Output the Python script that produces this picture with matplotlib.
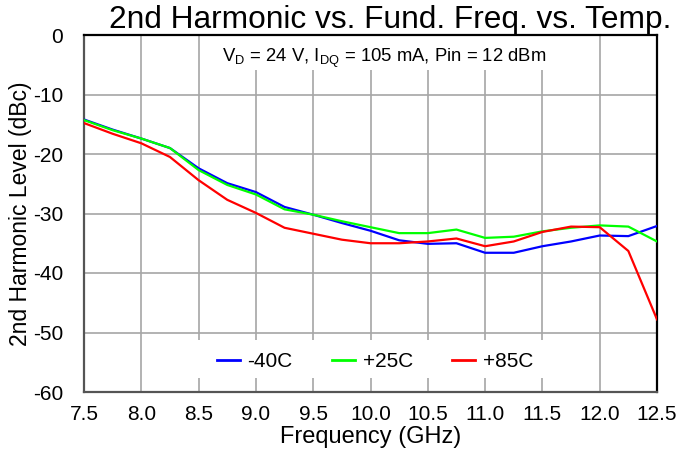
import matplotlib
matplotlib.use("Agg")
import matplotlib.pyplot as plt
from matplotlib.patches import Rectangle

plt.rcParams['font.family'] = ['Liberation Sans', 'DejaVu Sans']
plt.rcParams['mathtext.fontset'] = 'custom'
plt.rcParams['mathtext.rm'] = 'Liberation Sans'

freq = [7.5, 7.75, 8.0, 8.25, 8.5, 8.75, 9.0, 9.25, 9.5, 9.75, 10.0,
        10.25, 10.5, 10.75, 11.0, 11.25, 11.5, 11.75, 12.0, 12.25, 12.5]
m40 = [-14.2, -15.9, -17.4, -19.0, -22.4, -24.9, -26.4, -28.9, -30.2, -31.6, -32.9,
       -34.5, -35.1, -35.0, -36.6, -36.6, -35.5, -34.7, -33.7, -33.8, -32.1]
p25 = [-14.3, -16.0, -17.4, -19.0, -22.7, -25.2, -26.8, -29.3, -30.2, -31.3, -32.3,
       -33.3, -33.3, -32.7, -34.1, -33.9, -33.0, -32.4, -32.0, -32.2, -34.7]
p85 = [-14.8, -16.6, -18.2, -20.5, -24.4, -27.7, -29.9, -32.4, -33.4, -34.4, -35.0,
       -35.0, -34.7, -34.2, -35.5, -34.7, -33.1, -32.2, -32.3, -36.3, -47.8]
series = [("-40C", m40, "#0000ff"), ("+25C", p25, "#00ff00"), ("+85C", p85, "#ff0000")]
xticks = [7.5, 8.0, 8.5, 9.0, 9.5, 10.0, 10.5, 11.0, 11.5, 12.0, 12.5]
yticks = [0, -10, -20, -30, -40, -50, -60]

fig = plt.figure(figsize=(6.8, 4.57), dpi=100)
ax = fig.add_axes([84/680, 1-392/457, 573/680, 357/457])

for lbl, vals, col in series:
    ax.plot(freq, vals, color=col, lw=1.6, label=lbl, zorder=4)

ax.set_xlim(7.5, 12.5)
ax.set_ylim(-60, 0)
ax.set_xticks(xticks)
ax.set_xticklabels([f"{t:.1f}" for t in xticks])
ax.set_yticks(yticks)
ax.set_yticklabels([str(t) for t in yticks])
ax.tick_params(axis='both', length=0, labelsize=15)
ax.tick_params(axis='x', pad=9)
ax.tick_params(axis='y', pad=15)
ax.grid(True, color='#a6a6a6', lw=1.2, zorder=1)
ax.set_axisbelow(True)

for s in ['top', 'right']:
    ax.spines[s].set_color('#000000')
    ax.spines[s].set_linewidth(1.6)
for s in ['left', 'bottom']:
    ax.spines[s].set_color('#555555')
    ax.spines[s].set_linewidth(1.6)

ax.set_xlabel("Frequency (GHz)", fontsize=17, labelpad=2)
ax.set_ylabel("2nd Harmonic Level (dBc)", fontsize=16.5, labelpad=1)
ax.set_title("2nd Harmonic vs. Fund. Freq. vs. Temp.", fontsize=22.8, x=0.535, pad=2)

# white backgrounds for annotation and legend
ax.add_patch(Rectangle((0.211, 0.902), 0.613, 0.098, transform=ax.transAxes,
                       facecolor='white', edgecolor='none', zorder=2))
ax.add_patch(Rectangle((0.115, 0.039), 0.768, 0.107, transform=ax.transAxes,
                       facecolor='white', edgecolor='none', zorder=2))

ax.text(0.524, 0.935, r"V$_\mathregular{D}$ = 24 V, I$_\mathregular{DQ}$ = 105 mA, Pin = 12 dBm",
        transform=ax.transAxes, ha='center', va='center', fontsize=13.3, zorder=5)

leg = ax.legend(loc='center', bbox_to_anchor=(0.508, 0.085), ncol=3, frameon=False,
                fontsize=15, handlelength=1.1, handletextpad=0.35, columnspacing=1.9)
for h in leg.get_lines():
    h.set_linewidth(2)

fig.savefig("out.png", dpi=100)
